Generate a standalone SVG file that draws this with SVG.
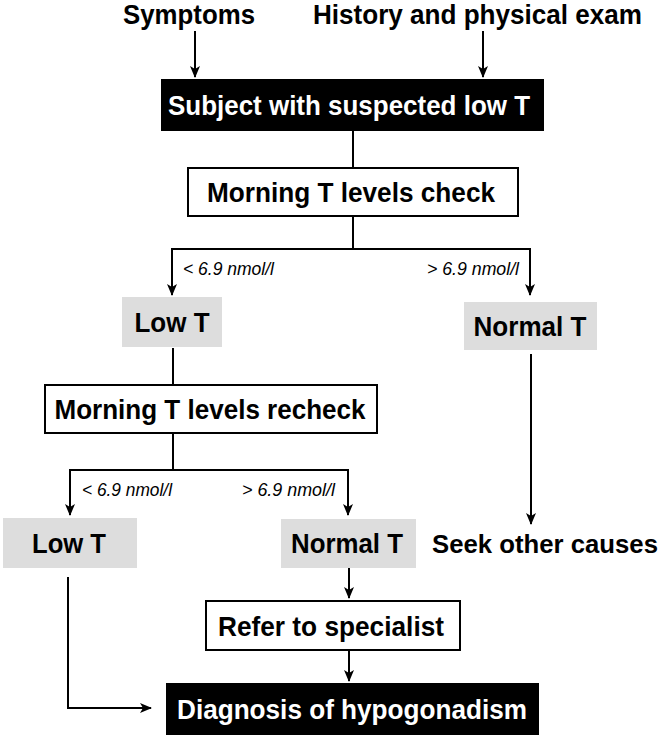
<svg xmlns="http://www.w3.org/2000/svg" width="666" height="735" viewBox="0 0 666 735">
<defs>
<style>
.t{font-family:"Liberation Sans",Arial,sans-serif;font-weight:bold;font-size:28px;fill:#000;text-anchor:middle}
.s{font-size:26px}
.w{fill:#fff}
.lbl{font-family:"Liberation Sans",Arial,sans-serif;font-style:italic;font-size:19px;fill:#000}
.box{fill:#fff;stroke:#000;stroke-width:2}
.dark{fill:#000}
.gray{fill:#dddddd}
.c{fill:none;stroke:#000;stroke-width:2}
</style>
<marker id="ah" viewBox="0 0 12 12" refX="11" refY="6" markerWidth="12" markerHeight="12" markerUnits="userSpaceOnUse" orient="auto">
<path d="M0,1 L12,6 L0,11 L3,6 z" fill="#000"/>
</marker>
</defs>
<rect width="666" height="735" fill="#fff"/>

<g id="connectors">
<path class="c" d="M195,31 V77" marker-end="url(#ah)"/>
<path class="c" d="M483,31 V77" marker-end="url(#ah)"/>
<path class="c" d="M353,131 V167"/>
<path class="c" d="M353,216 V249 H172 V295" marker-end="url(#ah)"/>
<path class="c" d="M353,249 H530 V295" marker-end="url(#ah)"/>
<path class="c" d="M173,348 V385"/>
<path class="c" d="M173,433 V470 H70 V515" marker-end="url(#ah)"/>
<path class="c" d="M173,470 H348 V515" marker-end="url(#ah)"/>
<path class="c" d="M531,354 V524" marker-end="url(#ah)"/>
<path class="c" d="M349,568 V598" marker-end="url(#ah)"/>
<path class="c" d="M349,650 V681" marker-end="url(#ah)"/>
<path class="c" d="M68,577 V708 H151" marker-end="url(#ah)"/>
<text class="lbl" x="183" y="275" textLength="91" lengthAdjust="spacingAndGlyphs">&lt; 6.9 nmol/l</text>
<text class="lbl" x="427" y="275" textLength="92" lengthAdjust="spacingAndGlyphs">&gt; 6.9 nmol/l</text>
<text class="lbl" x="82" y="496" textLength="90" lengthAdjust="spacingAndGlyphs">&lt; 6.9 nmol/l</text>
<text class="lbl" x="242" y="496" textLength="93" lengthAdjust="spacingAndGlyphs">&gt; 6.9 nmol/l</text>
</g>

<g id="symptoms">
<text class="t" x="189" y="24" textLength="132" lengthAdjust="spacingAndGlyphs">Symptoms</text>
</g>
<g id="history">
<text class="t" x="477.5" y="24" textLength="329" lengthAdjust="spacingAndGlyphs">History and physical exam</text>
</g>
<g id="subject">
<rect class="dark" x="161" y="79" width="383" height="52"/>
<text class="t w" x="349" y="115" textLength="362" lengthAdjust="spacingAndGlyphs">Subject with suspected low T</text>
</g>
<g id="check">
<rect class="box" x="188" y="168" width="330" height="48"/>
<text class="t" x="351" y="202" textLength="288" lengthAdjust="spacingAndGlyphs">Morning T levels check</text>
</g>
<g id="lowT1">
<rect class="gray" x="122" y="297" width="100" height="50"/>
<text class="t" x="172" y="332" textLength="75" lengthAdjust="spacingAndGlyphs">Low T</text>
</g>
<g id="normalT1">
<rect class="gray" x="464" y="302" width="133" height="48"/>
<text class="t" x="530" y="336" textLength="113" lengthAdjust="spacingAndGlyphs">Normal T</text>
</g>
<g id="recheck">
<rect class="box" x="45" y="385" width="332" height="48"/>
<text class="t" x="210" y="419" textLength="311" lengthAdjust="spacingAndGlyphs">Morning T levels recheck</text>
</g>
<g id="lowT2">
<rect class="gray" x="3" y="518" width="134" height="50"/>
<text class="t" x="69" y="553" textLength="74" lengthAdjust="spacingAndGlyphs">Low T</text>
</g>
<g id="normalT2">
<rect class="gray" x="281" y="519" width="135" height="49"/>
<text class="t" x="347" y="553" textLength="112" lengthAdjust="spacingAndGlyphs">Normal T</text>
</g>
<g id="seek">
<text class="t s" x="545" y="553" textLength="226" lengthAdjust="spacingAndGlyphs">Seek other causes</text>
</g>
<g id="refer">
<rect class="box" x="206" y="601" width="254" height="49"/>
<text class="t" x="331" y="636" textLength="226" lengthAdjust="spacingAndGlyphs">Refer to specialist</text>
</g>
<g id="diagnosis">
<rect class="dark" x="166" y="683" width="373" height="52"/>
<text class="t w" x="352" y="719" textLength="350" lengthAdjust="spacingAndGlyphs">Diagnosis of hypogonadism</text>
</g>
</svg>
